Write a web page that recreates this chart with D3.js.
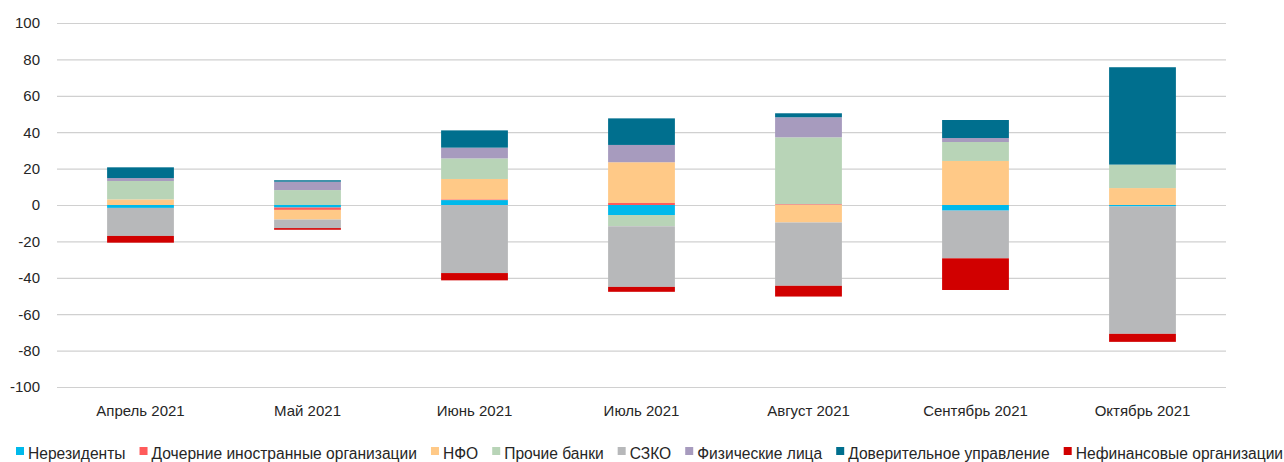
<!DOCTYPE html>
<meta charset="utf-8">
<style>
body { margin: 0; background: #fff; }
text { font-family: "Liberation Sans", Arial, sans-serif; fill: #262626; }
.tick text { font-size: 15px; }
.legend text { font-size: 15.6px; }
</style>
<body>
<svg id="chart" width="1284" height="462"></svg>
<script src="https://d3js.org/d3.v7.min.js"></script>
<script type="text/javascript">
// months and series names
var months = ["Апрель 2021", "Май 2021", "Июнь 2021", "Июль 2021", "Август 2021", "Сентябрь 2021", "Октябрь 2021"];
var seriesNames = ["Нерезиденты", "Дочерние иностранные организации", "НФО", "Прочие банки", "СЗКО",
  "Физические лица", "Доверительное управление", "Нефинансовые организации"];
var yTicks = [-100, -80, -60, -40, -20, 0, 20, 40, 60, 80, 100];

// values per series, one per month
var nonResidents = [-1.6, -1.4, 2.7, -5.5, 0, -3.1, -0.8];
var foreignSubs  = [0, -1.3, 0.4, 1.1, 0.4, 0, 0];
var nfo          = [3.1, -5.3, 11.2, 22.4, -9.6, 24.2, 9.3];
var otherBanks   = [10.1, 8.2, 11.3, -6.2, 36.8, 10.4, 12.9];
var szko         = [-15.4, -4.7, -37.4, -33.3, -34.8, -26.2, -70.0];
var individuals  = [1.6, 4.6, 5.9, 9.5, 11.0, 2.2, 0];
var trust        = [5.9, 0.8, 9.5, 14.6, 2.2, 9.9, 53.5];
var nonFinancial = [-3.7, -0.9, -4.0, -2.7, -5.9, -17.4, -4.4];

var colors = ["#00b9eb", "#ff5b5b", "#ffc987", "#b8d4b7", "#b7b8ba", "#a79bbe", "#006f8e", "#d10000"];

var allSeries = [nonResidents, foreignSubs, nfo, otherBanks, szko, individuals, trust, nonFinancial];

// build table for d3.stack
var table = months.map(function(m, i) {
  var row = {month: m};
  seriesNames.forEach(function(s, j) { row[s] = allSeries[j][i]; });
  return row;
});

var svg = d3.select("#chart");

var x = d3.scaleBand()
  .domain(months)
  .range([57, 1226])
  .paddingInner(0.6)
  .paddingOuter(0.3);

var y = d3.scaleLinear()
  .domain([-100, 100])
  .range([387, 23]);

var color = d3.scaleOrdinal().domain(seriesNames).range(colors);

// gridlines + y labels (plain hyphen for negatives, like the original)
var yAxis = svg.append("g")
  .attr("transform", "translate(57,0)")
  .call(d3.axisLeft(y)
    .tickValues(yTicks)
    .tickFormat(function(d) { return String(d); })
    .tickSize(-(1226 - 57))
    .tickPadding(17));
yAxis.select(".domain").remove();
yAxis.selectAll(".tick line").attr("stroke", "#d0d0d0").attr("stroke-width", 1.2);

// stacked bars
var stacked = d3.stack()
  .keys(seriesNames)
  .offset(d3.stackOffsetDiverging)(table);

svg.append("g")
  .selectAll("g")
  .data(stacked)
  .enter().append("g")
    .attr("fill", function(d) { return color(d.key); })
  .selectAll("rect")
  .data(function(d) { return d; })
  .enter().append("rect")
    .attr("x", function(d) { return x(d.data.month); })
    .attr("y", function(d) { return y(Math.max(d[0], d[1])); })
    .attr("width", x.bandwidth())
    .attr("height", function(d) { return Math.abs(y(d[0]) - y(d[1])); });

// category labels
var xAxis = svg.append("g")
  .attr("transform", "translate(0,387)")
  .call(d3.axisBottom(x).tickSize(0).tickPadding(18));
xAxis.select(".domain").remove();

// legend, laid out left to right
var legend = svg.append("g").attr("class", "legend");
var lx = 16;
seriesNames.forEach(function(name) {
  var item = legend.append("g").attr("transform", "translate(" + lx + ",0)");
  item.append("rect")
    .attr("x", 0).attr("y", 447)
    .attr("width", 8).attr("height", 8)
    .attr("fill", color(name));
  var t = item.append("text")
    .attr("x", 12).attr("y", 459)
    .text(name);
  lx += 12 + t.node().getComputedTextLength() + 14;
});
</script>
</body>
